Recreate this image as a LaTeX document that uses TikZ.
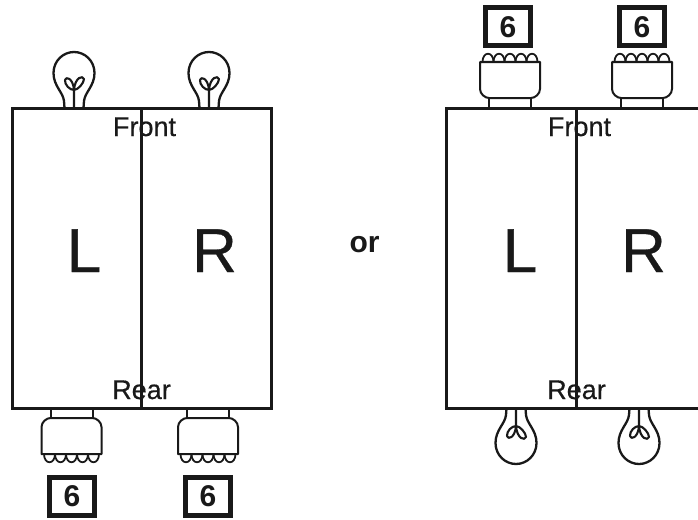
\documentclass[tikz,border=0pt]{standalone}
\usepackage{fontspec}
\setmainfont{Liberation Sans}
\newfontfamily\heavier[FakeBold=0.5]{Liberation Sans}
\definecolor{ink}{gray}{0.1}
\tikzset{
  x=1pt,y=-1pt,
  outline/.style={draw=ink,line width=3pt},
  thinline/.style={draw=ink,line width=2pt,line join=round},
  label/.style={text=ink,inner sep=0pt,anchor=base,font=\heavier\fontsize{27}{27}\selectfont},
  big/.style={text=ink,inner sep=0pt,anchor=base,font=\heavier\fontsize{62}{62}\selectfont},
  orlabel/.style={text=ink,inner sep=0pt,anchor=base,font=\fontsize{30}{30}\selectfont\bfseries},
  countbox/.style={draw=ink,line width=5pt,fill=white,minimum width=45pt,minimum height=38pt,inner sep=0pt,text=ink,font=\fontsize{30}{30}\selectfont\bfseries},
  bulb/.pic={
    \draw[draw=ink,line width=2.3pt] (-9.5,0) -- (-10,-7) .. controls (-11,-16) and (-20.5,-22) .. (-20.5,-35)
      .. controls (-20.5,-47) and (-11,-56) .. (0,-56)
      .. controls (11,-56) and (20.5,-47) .. (20.5,-35)
      .. controls (20.5,-22) and (11,-16) .. (10,-7) -- (9.5,0);
    \draw[draw=ink,line width=2.1pt,line join=round] (0,0) -- (0,-18)
      .. controls (-4,-18) and (-9.5,-23) .. (-9,-28)
      .. controls (-8,-32) and (-1,-30) .. (0,-18)
      .. controls (4,-18) and (10,-25) .. (10,-29)
      .. controls (9,-33) and (1,-31) .. (0,-18);
  },
  led/.pic={
    \draw[thinline] (-21,0) -- (-21,-10) (21,0) -- (21,-10);
    \draw[thinline] (-30,-46) -- (-30,-19) .. controls (-30,-14) and (-25,-10) .. (-21,-10)
      -- (21,-10) .. controls (25,-10) and (30,-14) .. (30,-19) -- (30,-46) -- cycle;
    \foreach \i in {-2,-1,0,1,2}{
      \draw[thinline,line width=1.8pt] ({\i*11-5.5},-46) .. controls ({\i*11-5.5},-57) and ({\i*11+5.5},-57) .. ({\i*11+5.5},-46);
    }
  },
}
\begin{document}
\begin{tikzpicture}
\useasboundingbox (0,0) rectangle (698,519);
% left panel
\draw[outline] (12,108) rectangle (271,408);
\draw[outline] (141,108) -- (141,408);
\node[label] (frontA) at (144.5,136) {Front};
\node[label] (rearA) at (141.5,399) {Rear};
\node[big] (lA) at (84,272) {L};
\node[big] (rA) at (214.5,272) {R};
\pic at (74,108) {bulb};
\pic at (209,108) {bulb};
\pic[yscale=-1] at (71.5,408) {led};
\pic[yscale=-1] at (208,408) {led};
\node[countbox] (boxA) at (72,496.5) {6};
\node[countbox] (boxB) at (208,496.5) {6};
% middle
\node[orlabel] (or) at (364.5,252) {or};
% right panel
\draw[outline] (446,108) -- (708,108) -- (708,408) -- (446,408) -- cycle;
\draw[outline] (576,108) -- (576,408);
\node[label] (frontB) at (579.5,136) {Front};
\node[label] (rearB) at (576.5,399) {Rear};
\node[big] (lB) at (520,272) {L};
\node[big] (rB) at (643.5,272) {R};
\pic at (510,108) {led};
\pic at (642,108) {led};
\pic[yscale=-1] at (516,408) {bulb};
\pic[yscale=-1] at (639,408) {bulb};
\node[countbox] (boxC) at (508,27) {6};
\node[countbox] (boxD) at (642,27) {6};
\end{tikzpicture}
\end{document}
